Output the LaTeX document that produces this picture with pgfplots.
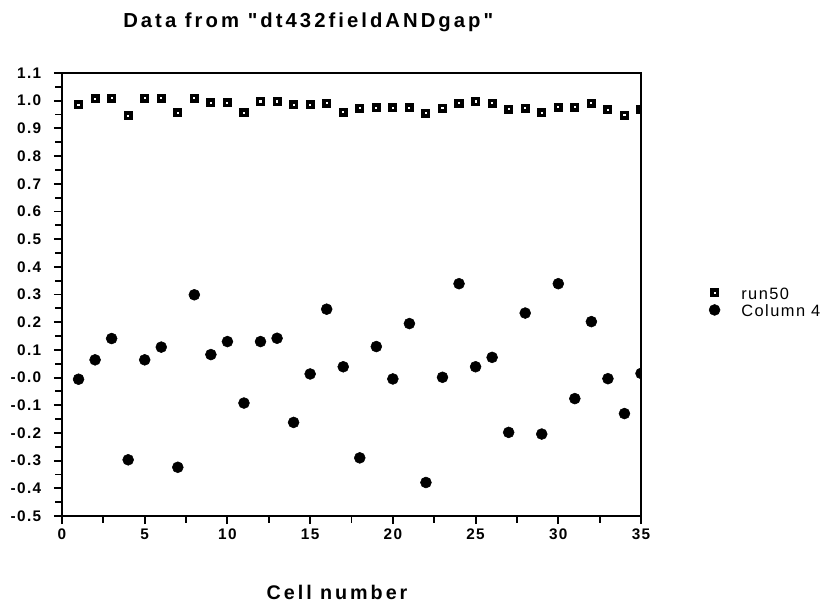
\documentclass[border=0pt]{standalone}
\usepackage{fontspec}
\setmainfont{Liberation Sans}[LetterSpace=9]
\newfontfamily\boldsans{Liberation Sans Bold}[LetterSpace=9]
\newfontfamily\titlesans{Liberation Sans Bold}[LetterSpace=15]
\usepackage{pgfplots}
\pgfplotsset{compat=1.18}

% values
\pgfplotstableread{
x  run
1  0.985
2  1.007
3  1.009
4  0.945
5  1.009
6  1.009
7  0.957
8  1.009
9  0.993
10 0.993
11 0.957
12 0.997
13 0.997
14 0.985
15 0.985
16 0.991
17 0.959
18 0.973
19 0.975
20 0.975
21 0.975
22 0.955
23 0.973
24 0.991
25 0.997
26 0.991
27 0.969
28 0.973
29 0.957
30 0.976
31 0.976
32 0.991
33 0.967
34 0.948
35 0.967
}\runfifty

\pgfplotstableread{
x  col
1  -0.006
2  0.064
3  0.141
4  -0.297
5  0.064
6  0.110
7  -0.324
8  0.299
9  0.083
10 0.130
11 -0.092
12 0.130
13 0.142
14 -0.162
15 0.013
16 0.247
17 0.039
18 -0.290
19 0.112
20 -0.005
21 0.195
22 -0.379
23 0.001
24 0.339
25 0.039
26 0.073
27 -0.198
28 0.233
29 -0.204
30 0.339
31 -0.076
32 0.202
33 -0.004
34 -0.130
35 0.015
}\colfour

\begin{document}
\begin{tikzpicture}
\useasboundingbox (-46.5pt,-66pt) rectangle (573.75pt,387pt);
\begin{axis}[
    at={(0pt,0pt)}, anchor=south west,
    scale only axis,
    width=434.25pt, height=332.25pt,
    xmin=0, xmax=35,
    ymin=-0.5, ymax=1.1,
    xtick={0,5,10,15,20,25,30,35},
    minor x tick num=1,
    ytick={-0.5,-0.4,-0.3,-0.2,-0.1,0,0.1,0.2,0.3,0.4,0.5,0.6,0.7,0.8,0.9,1.0,1.1},
    yticklabels={-0.5,-0.4,-0.3,-0.2,-0.1,-0.0,0.1,0.2,0.3,0.4,0.5,0.6,0.7,0.8,0.9,1.0,1.1},
    minor y tick num=1,
    xtick pos=bottom, ytick pos=left,
    tick align=outside,
    major tick length=6pt, minor tick length=5pt,
    tick style={black, line width=1.4pt},
    axis line style={line width=1.8pt},
    /pgf/number format/assume math mode=true,
    ticklabel style={font=\boldsans\fontsize{11.5}{13}\selectfont},
    yticklabel style={xshift=-6pt},
    xlabel={Cell number},
    xlabel style={at={(axis description cs:0,0)}, anchor=west,
        xshift=150pt, yshift=-57pt,
        font=\titlesans\fontsize{14.8}{16}\selectfont},
    clip marker paths=true,
    axis on top,
    legend style={draw=none, fill=none, at={(rel axis cs:1.1082,0.4843)}, anchor=west,
        font=\fontsize{12.3}{13}\selectfont, row sep=3.25pt,
        nodes={inner sep=0pt, text height=9.5pt, text depth=0pt}},
    legend cell align=left,
    legend image code/.code={
        \path[draw=none] (0pt,0pt) rectangle (25pt,0.1pt);
        \path[#1, draw=none] plot[only marks] coordinates {(5pt,0pt)};
    },
]
\addplot[only marks, mark=square*, mark size=2.1pt,
    mark options={draw=black, fill=white, line width=2.6pt}]
    table[x=x, y=run] {\runfifty};
\addplot[only marks, mark=*, mark size=4.1pt,
    mark options={draw=black, fill=black}]
    table[x=x, y=col] {\colfour};
\legend{run50, Column 4}
\end{axis}
\node[anchor=west, inner sep=0pt, font=\titlesans\fontsize{15.2}{17}\selectfont]
    at (45.75pt,370.5pt) {Data from "dt432fieldANDgap"};
\end{tikzpicture}
\end{document}
